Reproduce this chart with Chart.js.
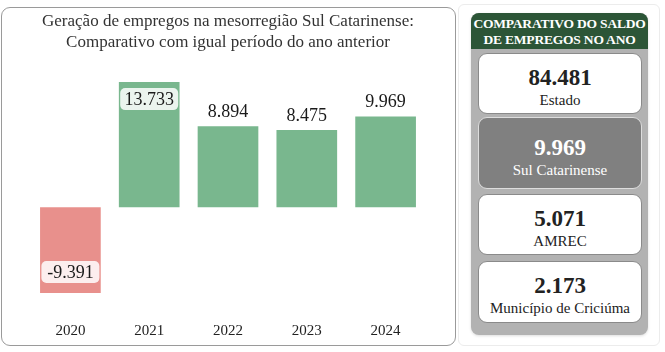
<!DOCTYPE html>
<html>
<head>
<meta charset="utf-8">
<script src="https://cdn.jsdelivr.net/npm/chart.js@4.4.1/dist/chart.umd.min.js"></script>
<style>
  body { margin: 0; background: #fff; font-family: "Liberation Serif", serif; overflow: hidden; }
  #chartBox {
    position: absolute; left: 1px; top: 7px; width: 453px; height: 337px;
    border: 1px solid #9a9a9a; border-radius: 9px; background: #fff;
  }
  #outer {
    position: absolute; left: 458px; top: 4px; width: 200px; height: 340px;
    border: 1px solid #ececec; border-radius: 6px;
  }
  #side {
    position: absolute; left: 471px; top: 13px; width: 177px; height: 322px;
    background: #b2b2b2; border-radius: 8px; box-shadow: 0 1px 3px #ddd;
  }
  #sideHead {
    background: #2c5537; color: #fff; font-weight: bold; font-size: 13.5px;
    text-align: center; line-height: 16px; padding: 3px 0 3px 0; height: 30px;
    border-radius: 8px 8px 0 0; letter-spacing: -0.2px;
  }
  .card {
    position: absolute; left: 7px; width: 162px; background: #fff;
    border: 1px solid #8a8a8a; border-radius: 9px; text-align: center; color: #222;
  }
  .card .num { font-weight: bold; font-size: 23px; line-height: 24px; }
  .card .lbl { font-size: 15px; line-height: 20px; }
  .card.hl { background: #808080; color: #fff; border-color: #ddd; }
</style>
</head>
<body>
<div id="chartBox"><canvas id="barChart"></canvas></div>
<div id="outer"></div>
<div id="side">
  <div id="sideHead">COMPARATIVO DO SALDO<br>DE EMPREGOS NO ANO</div>
  <div id="cards"></div>
</div>
<script>
// chart data
var years = ['2020', '2021', '2022', '2023', '2024'];
var saldo = [-9391, 13733, 8894, 8475, 9969];
var titleLines = ['Geração de empregos na mesorregião Sul Catarinense:', 'Comparativo com igual período do ano anterior'];

// side panel data
var cardLabels = ['Estado', 'Sul Catarinense', 'AMREC', 'Município de Criciúma'];
var cardValues = [84481, 9969, 5071, 2173];

function fmt(v) {
    var s = Math.abs(v).toString().replace(/\B(?=(\d{3})+(?!\d))/g, '.');
    return (v < 0 ? '-' : '') + s;
}

// cards
var cardTops = [40, 104, 181, 248];
var cardHeights = [59, 70, 59, 60];
var cardsHtml = '';
for (var i = 0; i < cardLabels.length; i++) {
    cardsHtml += '<div class="card' + (i == 1 ? ' hl' : '') + '" style="top:' + cardTops[i] + 'px;height:' + cardHeights[i] + 'px">' +
        '<div class="num" style="margin-top:' + (i == 1 ? 18 : 12) + 'px">' + fmt(cardValues[i]) + '</div>' +
        '<div class="lbl">' + cardLabels[i] + '</div></div>';
}
document.getElementById('cards').innerHTML = cardsHtml;

// value labels, clamped inside the chart area with a translucent white box
var valueLabels = {
    id: 'valueLabels',
    afterDatasetsDraw: function (chart) {
        var ctx = chart.ctx;
        var area = chart.chartArea;
        var meta = chart.getDatasetMeta(0);
        ctx.save();
        ctx.font = '18px "Liberation Serif", serif';
        ctx.textAlign = 'center';
        ctx.textBaseline = 'middle';
        meta.data.forEach(function (bar, i) {
            var v = saldo[i];
            var txt = fmt(v);
            var w = 58, h = 22;
            var cy = v >= 0 ? bar.y - 4 - h / 2 : bar.y + 4 + h / 2;
            cy = Math.max(area.top + 6 + h / 2, Math.min(area.bottom - 10 - h / 2, cy));
            ctx.fillStyle = 'rgba(255,255,255,0.85)';
            ctx.beginPath();
            ctx.roundRect(bar.x - w / 2, cy - h / 2, w, h, 5);
            ctx.fill();
            ctx.fillStyle = '#1a1a1a';
            ctx.fillText(txt, bar.x, cy + 1);
        });
        ctx.restore();
    }
};

var ctx = document.getElementById('barChart').getContext('2d');
var barChart = new Chart(ctx, {
    type: 'bar',
    data: {
        labels: years,
        datasets: [{
            data: saldo,
            backgroundColor: saldo.map(function (v) { return v < 0 ? '#e8908c' : '#79b78e'; }),
            borderWidth: 0,
            categoryPercentage: 1,
            barPercentage: 0.77
        }]
    },
    options: {
        responsive: true,
        maintainAspectRatio: false,
        animation: false,
        layout: { padding: { left: 29, right: 30, top: 4, bottom: -16 } },
        plugins: {
            legend: { display: false },
            tooltip: { enabled: false },
            title: {
                display: true,
                text: titleLines,
                color: '#333',
                font: { family: '"Liberation Serif", serif', size: 17, weight: 'normal', lineHeight: 1.18 },
                padding: { top: 0, bottom: 30 }
            }
        },
        scales: {
            x: {
                grid: { display: false },
                border: { display: false },
                ticks: { color: '#222', font: { family: '"Liberation Serif", serif', size: 15 }, padding: 21 }
            },
            y: {
                display: false,
                min: Math.min.apply(null, saldo),
                max: Math.max.apply(null, saldo)
            }
        }
    },
    plugins: [valueLabels]
});
</script>
</body>
</html>
